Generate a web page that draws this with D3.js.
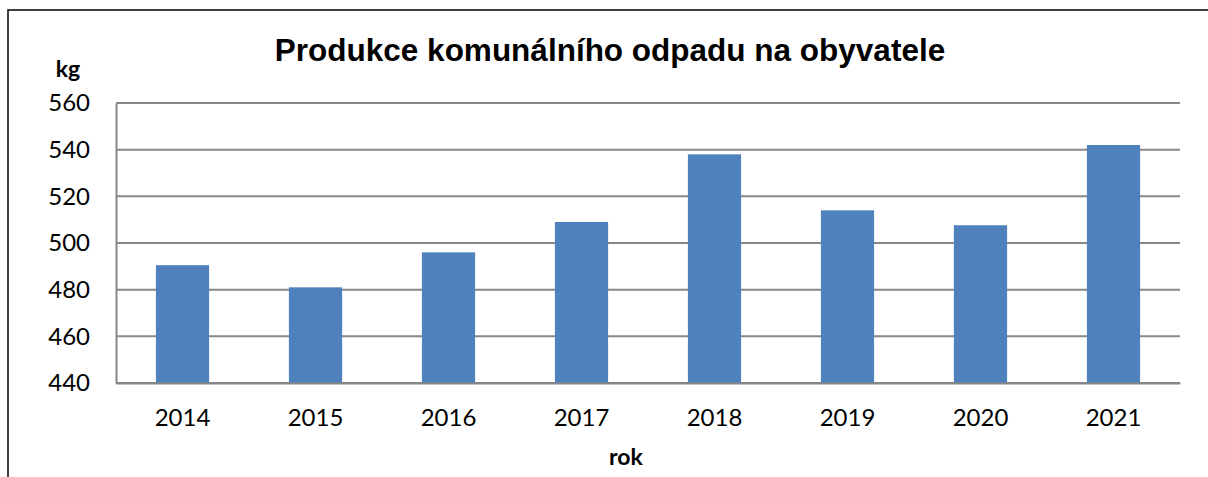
<!DOCTYPE html>
<html>
<head>
<meta charset="utf-8">
<script src="https://cdn.jsdelivr.net/npm/d3@7"></script>
<style>
  body { margin: 0; background: #fff; }
  svg { display: block; }
</style>
</head>
<body>
<svg id="chart" width="1208" height="477"></svg>
<script>
// data
var years = ['2014', '2015', '2016', '2017', '2018', '2019', '2020', '2021'];
var values = [490.5, 481, 496, 509, 538, 514, 507.6, 542];
var yTicks = [440, 460, 480, 500, 520, 540, 560];

var svg = d3.select('#chart');
var margin = { left: 116, top: 103, right: 28, bottom: 94 };
var w = 1208 - margin.left - margin.right,
    h = 477 - margin.top - margin.bottom;

// outer frame, runs off the right and bottom edges
svg.append('rect')
    .attr('x', 8).attr('y', 10)
    .attr('width', 1300).attr('height', 600)
    .attr('fill', 'none')
    .attr('stroke', '#000').attr('stroke-width', 1.5);

var x = d3.scaleBand().domain(years).range([0, w]).paddingInner(0.6).paddingOuter(0.3);
var y = d3.scaleLinear().domain([440, 560]).range([h, 0]);

var g = svg.append('g').attr('transform', 'translate(' + margin.left + ',' + margin.top + ')');

// gridlines
g.selectAll('line.grid').data(yTicks)
    .enter().append('line')
    .attr('class', 'grid')
    .attr('x1', 0).attr('x2', w)
    .attr('y1', function(d) { return y(d) }).attr('y2', function(d) { return y(d) })
    .attr('stroke', '#888').attr('stroke-width', 2);

// bars
g.selectAll('rect.bar').data(values)
    .enter().append('rect')
    .attr('class', 'bar')
    .attr('x', function(d, i) { return x(years[i]) })
    .attr('width', x.bandwidth())
    .attr('y', function(d) { return y(d) })
    .attr('height', function(d) { return h - y(d) })
    .attr('fill', '#4f81bd');

// y axis
var yAxis = g.append('g').call(d3.axisLeft(y).tickValues(yTicks).tickSize(0).tickPadding(26));
yAxis.select('.domain').attr('stroke', '#888').attr('stroke-width', 2);
yAxis.selectAll('text')
    .attr('font-family', 'Lato, "Open Sans", sans-serif')
    .attr('font-size', 24).attr('fill', '#000');

// x axis
var xAxis = g.append('g').attr('transform', 'translate(0,' + h + ')')
    .call(d3.axisBottom(x).tickSize(0).tickPadding(26));
xAxis.select('.domain').attr('stroke', '#888').attr('stroke-width', 2);
xAxis.selectAll('text')
    .attr('font-family', 'Lato, "Open Sans", sans-serif')
    .attr('font-size', 24).attr('fill', '#000');

// titles
svg.append('text')
    .attr('x', 610).attr('y', 61)
    .attr('text-anchor', 'middle')
    .attr('font-family', '"Liberation Sans", Arial, sans-serif')
    .attr('font-weight', 'bold').attr('font-size', 31.5)
    .text('Produkce komunálního odpadu na obyvatele');

svg.append('text')
    .attr('x', 68).attr('y', 77)
    .attr('text-anchor', 'middle')
    .attr('font-family', 'Lato, sans-serif')
    .attr('font-weight', 'bold').attr('font-size', 23)
    .text('kg');

svg.append('text')
    .attr('x', 626).attr('y', 465)
    .attr('text-anchor', 'middle')
    .attr('font-family', 'Lato, sans-serif')
    .attr('font-weight', 'bold').attr('font-size', 23)
    .text('rok');
</script>
</body>
</html>
